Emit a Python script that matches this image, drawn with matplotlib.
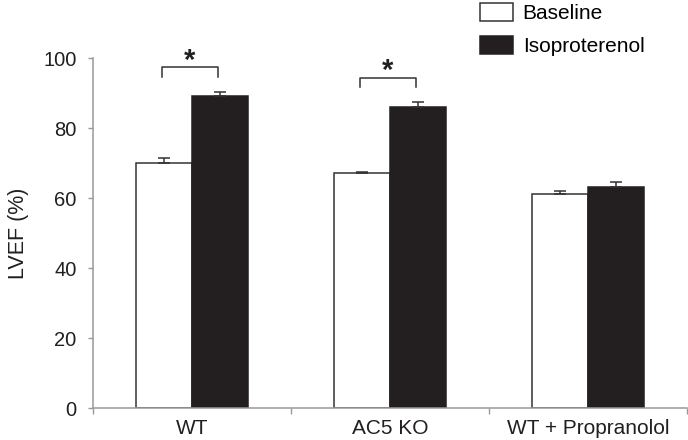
import matplotlib
matplotlib.use('Agg')
import matplotlib.pyplot as plt
import numpy as np

plt.rcParams['font.family'] = ['Liberation Sans', 'DejaVu Sans']

groups = ['WT', 'AC5 KO', 'WT + Propranolol']
baseline = [70, 67, 61]
baseline_err = [1.4, 0.4, 0.9]
iso = [89, 86, 63]
iso_err = [1.4, 1.5, 1.7]
signif = [True, True, False]

fig = plt.figure(figsize=(6.88, 4.40), dpi=100)
ax = fig.add_axes([93/688, 1-408/440, 594/688, 350/440])

centers = np.arange(len(groups)) + 0.5
w = 0.285
dark = '#231f20'

ax.bar(centers - w/2, baseline, w, color='white', edgecolor='#333333', linewidth=1.1,
       yerr=[np.zeros(3), baseline_err], capsize=4,
       error_kw=dict(ecolor='#333333', elinewidth=1.1, capthick=1.1), label='Baseline')
ax.bar(centers + w/2, iso, w, color=dark, edgecolor=dark, linewidth=1.1,
       yerr=[np.zeros(3), iso_err], capsize=4,
       error_kw=dict(ecolor='#333333', elinewidth=1.1, capthick=1.1), label='Isoproterenol')

# significance brackets
for c, s, top in zip(centers, signif, iso):
    if not s:
        continue
    yb = top + 5.6
    xl, xr = c - w/2 - 0.01, c + w/2 - 0.01
    ax.plot([xl, xl, xr, xr], [yb, yb + 2.8, yb + 2.8, yb], color='#333333', lw=1.1,
            clip_on=False)
    ax.text((xl + xr)/2, yb + 0.6, '*', ha='center', va='bottom', fontsize=21,
            fontweight='bold', color=dark, clip_on=False)

ax.set_xlim(0, 3)
ax.set_ylim(0, 100)
ax.set_yticks([0, 20, 40, 60, 80, 100])
ax.set_xticks([0, 1, 2, 3])
ax.set_xticklabels([])
ax.set_xticks(centers, minor=True)
ax.set_xticklabels(groups, minor=True)
ax.tick_params(axis='x', which='minor', length=0, pad=8, labelsize=15, labelcolor=dark)
ax.tick_params(axis='x', which='major', length=4.5, width=1, color='#999999', direction='out')
ax.tick_params(axis='y', length=3.8, width=1, color='#999999', pad=8, labelsize=14.5,
               labelcolor=dark)

for sp in ['top', 'right']:
    ax.spines[sp].set_visible(False)
for sp in ['left', 'bottom']:
    ax.spines[sp].set_color('#999999')
    ax.spines[sp].set_linewidth(1.1)

ax.set_ylabel('LVEF (%)', fontsize=15.5, color=dark, labelpad=10)

fig.legend(loc='upper left', bbox_to_anchor=(480/688, 1 - 3/440), frameon=False,
           fontsize=15, borderpad=0, borderaxespad=0, handlelength=1.6,
           handleheight=0.95, handletextpad=0.45, labelspacing=0.6)

fig.savefig('out.png', dpi=100)
